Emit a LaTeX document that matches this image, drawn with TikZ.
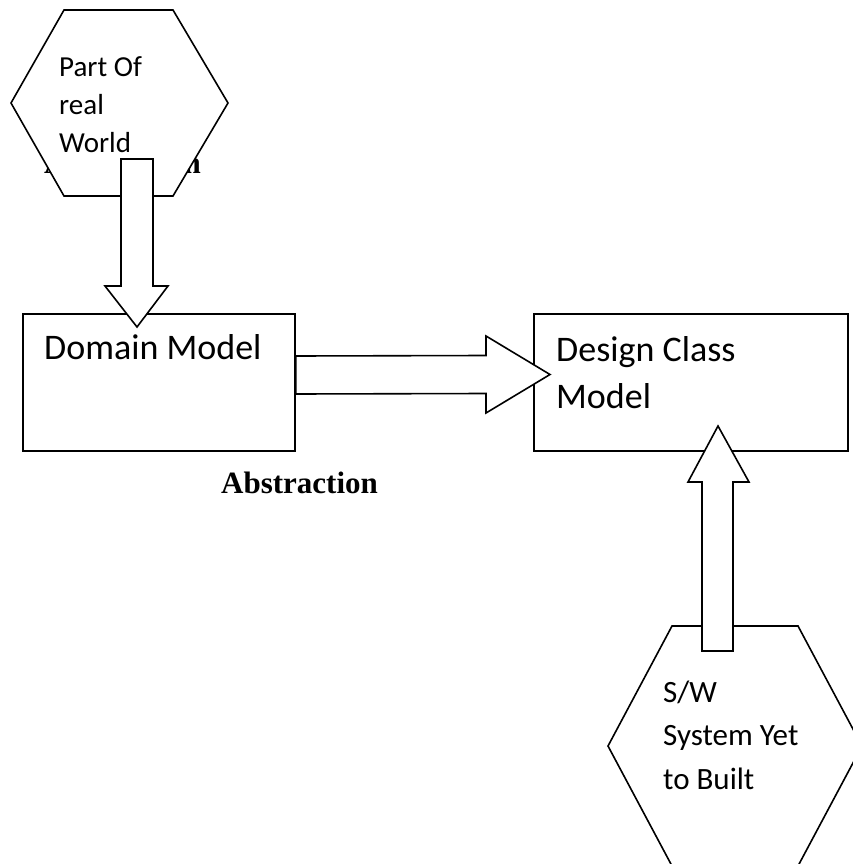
\documentclass[tikz,border=0pt]{standalone}
\usepackage{fontspec}
\setmainfont{Carlito}
\newfontfamily\serifbold{Liberation Serif}[BoldFont={Liberation Serif Bold}]
\usetikzlibrary{calc}
\tikzset{
  outline/.style={draw=black, line width=1.6pt, fill=white, line join=miter},
  boxlabel/.style={anchor=base west, inner sep=0pt, align=left,
    font=\fontsize{36}{47}\selectfont},
  hexlabel/.style={anchor=base west, inner sep=0pt, align=left},
  bluelabel/.style={anchor=base west, inner sep=0pt,
    font=\serifbold\bfseries\fontsize{31}{36}\selectfont},
  blockarrow/.style={outline}
}
\begin{document}
\begin{tikzpicture}[x=1pt, y=-1pt]
\useasboundingbox (0,0) rectangle (853,864);

% label lying behind the upper hexagon
\node[bluelabel] (abs1) at (44,173) {Abstraction};

% upper hexagon: part of the real world
\coordinate (pw) at (119.5,103);
\draw[outline] ($(pw)+(-55.5,-93)$) -- ($(pw)+(53.5,-93)$) -- ($(pw)+(108.5,0)$)
  -- ($(pw)+(53.5,93)$) -- ($(pw)+(-55.5,93)$) -- ($(pw)+(-108.5,0)$) -- cycle;
% multi-line labels are placed by the baseline of their last line
\node[hexlabel, font=\fontsize{29}{38}\selectfont] (pwtext) at (59,153)
  {Part Of\\real\\World};

% domain model box
\node[outline, minimum width=272pt, minimum height=137pt, inner sep=0pt]
  (dm) at (159,382.5) {};
\node[boxlabel] (dmtext) at (44,359) {Domain Model};

% arrow from the real world down to the domain model
\coordinate (a1s) at (137,159);
\coordinate (a1t) at (137,327);
\path[blockarrow] ($(a1s)+(-16,0)$) -- ($(a1t)+(-16,-41)$) -- ($(a1t)+(-32,-41)$)
  -- (a1t) -- ($(a1t)+(31,-41)$) -- ($(a1t)+(16,-41)$) -- ($(a1s)+(16,0)$) -- cycle;

% design class model box
\node[outline, minimum width=314pt, minimum height=137pt, inner sep=0pt]
  (dc) at (691,382.5) {};
\node[boxlabel] (dctext) at (556,408) {Design Class\\Model};

% arrow from domain model to design class model
\coordinate (a2s) at (dm.east |- 0,375);
\coordinate (a2t) at (550,374.5);
\path[blockarrow] ($(a2s)+(0,-19)$) -- ($(a2t)+(-64,-19)$) -- ($(a2t)+(-64,-38.5)$)
  -- (a2t) -- ($(a2t)+(-64,38.5)$) -- ($(a2t)+(-64,19)$) -- ($(a2s)+(0,19)$) -- cycle;

% lower hexagon: the software system
\coordinate (sw) at (735,746);
\draw[outline] ($(sw)+(-63,-120)$) -- ($(sw)+(63,-120)$) -- ($(sw)+(127,0)$)
  -- ($(sw)+(63,120)$) -- ($(sw)+(-63,120)$) -- ($(sw)+(-127,0)$) -- cycle;
\node[hexlabel, font=\fontsize{31}{43.5}\selectfont] (swtext) at (663,789)
  {S/W\\System Yet\\to Built};

% arrow from the software system up to the design class model
\coordinate (a3s) at (717.5,651);
\coordinate (a3t) at (718,426);
\path[blockarrow] ($(a3s)+(-15.5,0)$) -- ($(a3t)+(-16,56)$) -- ($(a3t)+(-30,56)$)
  -- (a3t) -- ($(a3t)+(31,56)$) -- ($(a3t)+(15,56)$) -- ($(a3s)+(15.5,0)$) -- cycle;

% label under the domain model
\node[bluelabel] (abs2) at (221,493) {Abstraction};
\end{tikzpicture}
\end{document}
